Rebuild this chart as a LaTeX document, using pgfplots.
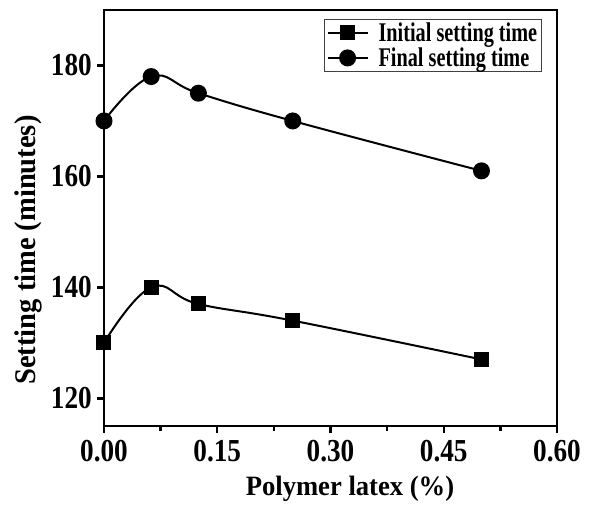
\documentclass[border=0pt]{standalone}
\usepackage{pgfplots}
\pgfplotsset{compat=1.18}
\usepackage{fontspec}
\setmainfont{Liberation Serif}
\newfontfamily\tickf{Liberation Serif Bold}[FakeStretch=0.85]
\newfontfamily\labf{Liberation Serif Bold}[FakeStretch=0.95]
\newfontfamily\legf{Liberation Serif Bold}[FakeStretch=0.75]
\begin{document}
\begin{tikzpicture}
\begin{axis}[
  width=453pt, height=416pt, scale only axis,
  xmin=0, xmax=0.6, ymin=115, ymax=190,
  axis line style={line width=2.5pt},
  xtick={0,0.15,0.3,0.45,0.6},
  ytick={120,140,160,180},
  minor x tick num=1,
  tick align=outside,
  xtick pos=left, ytick pos=left,
  major tick length=7pt, minor tick length=5pt,
  every tick/.style={line width=2.5pt, black},
  /pgf/number format/assume math mode=true,
  xticklabel style={/pgf/number format/fixed, /pgf/number format/fixed zerofill, /pgf/number format/precision=2, yshift=-5pt},
  tick label style={font=\tickf\fontsize{32}{34}\selectfont, inner sep=2pt},
  yticklabel style={xshift=-3pt},
  xlabel={Polymer latex (\%)},
  ylabel={Setting time (minutes)},
  label style={font=\labf\fontsize{28}{30}\selectfont},
  ylabel style={font=\labf\fontsize{30}{32}\selectfont},
  xlabel style={at={(axis description cs:0.543,-0.166)}, anchor=base},
  ylabel style={at={(axis description cs:-0.152,0.423)}, anchor=base},
  legend style={at={(0.966,0.978)}, anchor=north east, draw=black!75, line width=0.8pt,
    font=\legf\fontsize{27}{29}\selectfont, inner xsep=2pt, inner ysep=1pt, row sep=1pt, column sep=8pt,
    cells={anchor=west}},
  legend image code/.code={\draw[mark repeat=2, mark phase=2, #1] plot coordinates {(0pt,0pt) (20pt,0pt) (40pt,0pt)};},
]
\coordinate (O) at (rel axis cs:0,0);
\addplot[black, line width=2pt, smooth, tension=0.7, mark=square*, mark size=6.5pt, mark options={solid, fill=black}]
  coordinates {(0,130) (0.0625,140) (0.125,137) (0.25,134) (0.5,127)};
\addlegendentry{Initial setting time}
\addplot[black, line width=2pt, smooth, tension=0.7, mark=*, mark size=7.5pt, mark options={solid, fill=black}]
  coordinates {(0,170) (0.0625,178) (0.125,175) (0.25,170) (0.5,161)};
\addlegendentry{Final setting time}
\end{axis}
\pgfresetboundingbox
\path (O) ++(-104pt,-80pt) rectangle ++(596pt,506pt);
\end{tikzpicture}
\end{document}
